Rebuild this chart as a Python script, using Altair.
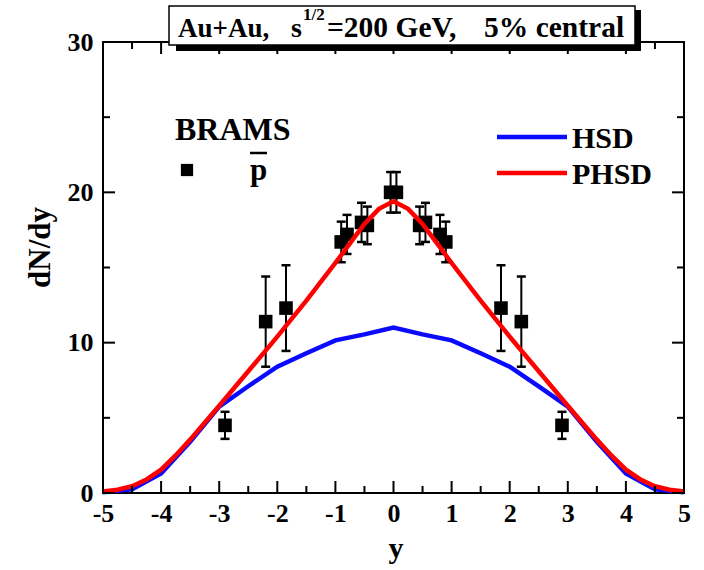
import altair as alt
import pandas as pd

# ---------------- data ----------------
phsd_x = [-5, -4.75, -4.5, -4.25, -4, -3.75, -3.5, -3, -2.5, -2, -1.5, -1, -0.75, -0.5, -0.25, 0,
          0.25, 0.5, 0.75, 1, 1.5, 2, 2.5, 3, 3.5, 3.75, 4, 4.25, 4.5, 4.75, 5]
phsd_y = [0.1, 0.22, 0.45, 0.9, 1.55, 2.5, 3.55, 5.8, 8.1, 10.4, 12.8, 15.3, 16.6, 17.9, 18.9, 19.4,
          18.9, 17.9, 16.6, 15.3, 12.8, 10.4, 8.1, 5.8, 3.55, 2.5, 1.55, 0.9, 0.45, 0.22, 0.1]

hsd_x = [-5, -4.5, -4, -3.5, -3, -2.5, -2, -1.5, -1, -0.5, 0, 0.5, 1, 1.5, 2, 2.5, 3, 3.5, 4, 4.5, 5]
hsd_y = [0.05, 0.25, 1.3, 3.4, 5.75, 7.1, 8.4, 9.3, 10.15, 10.55, 11.0, 10.55, 10.15, 9.3, 8.4, 7.1,
         5.75, 3.4, 1.3, 0.25, 0.05]

brahms_x = [-2.9, -2.2, -1.85, -0.9, -0.8, -0.55, -0.45, -0.05, 0.05, 0.45, 0.55, 0.8, 0.9, 1.85, 2.2, 2.9]
brahms_y = [4.5, 11.4, 12.3, 16.7, 17.2, 18.0, 17.8, 20.0, 20.0, 17.8, 18.0, 17.2, 16.7, 12.3, 11.4, 4.5]
brahms_err = [0.9, 3.0, 2.85, 1.35, 1.3, 1.3, 1.25, 1.35, 1.35, 1.25, 1.3, 1.3, 1.35, 2.85, 3.0, 0.9]

x_major = [-5, -4, -3, -2, -1, 0, 1, 2, 3, 4, 5]
x_minor = [-4.5, -3.5, -2.5, -1.5, -0.5, 0.5, 1.5, 2.5, 3.5, 4.5]
y_major = [0, 10, 20, 30]
y_minor = [5, 15, 25]

# ---------------- style ----------------
W, H = 581, 451
FONT = "Liberation Serif"
BLUE = "#0a0aff"
RED = "#ff0000"

xs = alt.Scale(domain=[-5, 5], nice=False, zero=False)
ys = alt.Scale(domain=[0, 30], nice=False, zero=False)

xaxis = alt.Axis(values=x_major, title="y", ticks=False, domain=False, grid=False,
                 labelFont=FONT, labelFontSize=26, labelFontWeight="bold", labelColor="black",
                 labelPadding=7, labelFlush=False, labelExpr="'' + datum.value",
                 titleFont=FONT, titleFontSize=30, titleFontWeight="bold", titleColor="black",
                 titleBaseline="alphabetic", titleY=64, titleX=W / 2 + 2, titleAlign="center")
yaxis = alt.Axis(values=y_major, title="dN/dy", ticks=False, domain=False, grid=False,
                 labelFont=FONT, labelFontSize=26, labelFontWeight="bold", labelColor="black",
                 labelPadding=10, labelFlush=False, labelExpr="'' + datum.value",
                 titleFont=FONT, titleFontSize=31, titleFontWeight="bold", titleColor="black",
                 titleAngle=-90, titleBaseline="middle", titleAlign="center",
                 titleX=-63, titleY=205)

X = lambda f: alt.X(f, type="quantitative", scale=xs, axis=xaxis)
Y = lambda f: alt.Y(f, type="quantitative", scale=ys, axis=yaxis)

pts = pd.DataFrame({"x": brahms_x, "y": brahms_y, "e": brahms_err})
hsd = pd.DataFrame({"x": hsd_x, "y": hsd_y})
phsd = pd.DataFrame({"x": phsd_x, "y": phsd_y})
one = pd.DataFrame({"a": [0]})

# error bars
err_base = alt.Chart(pts).transform_calculate(lo="datum.y - datum.e", hi="datum.y + datum.e")
err_rule = err_base.mark_rule(color="black", strokeWidth=2).encode(
    x=X("x"), y=Y("lo"), y2="hi:Q")
cap_lo = err_base.mark_tick(orient="horizontal", color="black", size=9, thickness=2.5, opacity=1).encode(
    x=X("x"), y=Y("lo"))
cap_hi = err_base.mark_tick(orient="horizontal", color="black", size=9, thickness=2.5, opacity=1).encode(
    x=X("x"), y=Y("hi"))
squares = alt.Chart(pts).mark_square(color="black", size=185, opacity=1).encode(x=X("x"), y=Y("y"))

hsd_line = alt.Chart(hsd).mark_line(color=BLUE, strokeWidth=4.5).encode(x=X("x"), y=Y("y"))
phsd_line = alt.Chart(phsd).mark_line(color=RED, strokeWidth=4.5).encode(x=X("x"), y=Y("y"))

# inward ticks on all four sides
def xticks(vals, length):
    df = pd.DataFrame({"x": vals})
    b = alt.Chart(df).mark_rule(color="black", strokeWidth=2).encode(
        x=X("x"), y=alt.value(H), y2=alt.value(H - length))
    t = alt.Chart(df).mark_rule(color="black", strokeWidth=2).encode(
        x=X("x"), y=alt.value(0), y2=alt.value(length))
    return b + t

def yticks(vals, length):
    df = pd.DataFrame({"y": vals})
    l = alt.Chart(df).mark_rule(color="black", strokeWidth=2).encode(
        y=Y("y"), x=alt.value(0), x2=alt.value(length))
    r = alt.Chart(df).mark_rule(color="black", strokeWidth=2).encode(
        y=Y("y"), x=alt.value(W), x2=alt.value(W - length))
    return l + r

ticks = xticks(x_major, 12) + xticks(x_minor, 7) + yticks(y_major, 12) + yticks(y_minor, 7)

# title box with shadow
shadow = alt.Chart(one).mark_rect(color="black").encode(
    x=alt.value(73), x2=alt.value(538), y=alt.value(-32), y2=alt.value(9))
box = alt.Chart(one).mark_rect(fill="white", stroke="black", strokeWidth=1.5).encode(
    x=alt.value(66), x2=alt.value(532), y=alt.value(-36), y2=alt.value(3))

def txt(s, x, y, size=30, align="left"):
    return alt.Chart(one).mark_text(text=s, font=FONT, fontSize=size, fontWeight="bold",
                                    color="black", align=align, baseline="alphabetic").encode(
        x=alt.value(x), y=alt.value(y))

title = (txt("Au+Au,", 75, -5, size=27) + txt("s", 188, -5, size=28) + txt("1/2", 200, -22, size=17)
         + txt("=200 GeV,", 224, -5, size=29.5) + txt("5% central", 381, -5, size=29.5))

# legend
leg = (txt("BRAMS", 72, 98, size=32)
       + alt.Chart(one).mark_square(color="black", size=150, opacity=1).encode(
           x=alt.value(84), y=alt.value(128))
       + txt("p", 147, 138, size=31)
       + alt.Chart(one).mark_rule(color="black", strokeWidth=2.5).encode(
           x=alt.value(147), x2=alt.value(164), y=alt.value(111))
       + alt.Chart(one).mark_rule(color=BLUE, strokeWidth=4.5).encode(
           x=alt.value(394), x2=alt.value(464), y=alt.value(95))
       + txt("HSD", 469, 106)
       + alt.Chart(one).mark_rule(color=RED, strokeWidth=4.5).encode(
           x=alt.value(394), x2=alt.value(464), y=alt.value(131))
       + txt("PHSD", 469, 142))

chart = alt.layer(
    err_rule, cap_lo, cap_hi, squares, hsd_line, phsd_line, ticks, shadow, box, title, leg
).properties(
    width=W, height=H,
    autosize=alt.AutoSizeParams(type="none"),
    padding={"left": 103, "top": 42, "right": 20, "bottom": 77},
    background="white",
).configure_view(stroke="black", strokeWidth=2)

chart.save("out.html", embed_options={"renderer": "svg", "actions": False})
